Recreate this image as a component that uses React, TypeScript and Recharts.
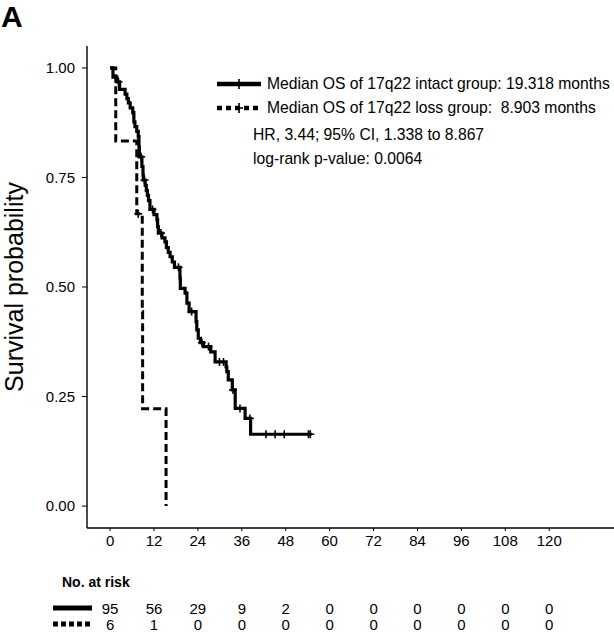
import React from 'react'
import { ComposedChart, Line, Scatter, XAxis, YAxis } from 'recharts'

const monthTicks = [0, 12, 24, 36, 48, 60, 72, 84, 96, 108, 120]
const survTicks = [0, 0.25, 0.5, 0.75, 1]

// 17q22 intact group (n = 95), steps: [months, survival]
const intactSteps: [number, number][] = [
  [0, 1.0], [0.8, 0.979], [1.9, 0.968], [2.6, 0.951], [4.1, 0.94], [4.6, 0.93],
  [5.0, 0.92], [5.5, 0.909], [6.2, 0.898], [6.5, 0.877], [6.8, 0.866], [7.3, 0.855],
  [7.7, 0.843], [7.9, 0.82], [8.0, 0.797], [8.7, 0.775], [9.0, 0.755], [9.1, 0.744],
  [9.6, 0.732], [9.9, 0.72], [10.2, 0.709], [10.5, 0.697], [10.9, 0.677], [12.0, 0.665],
  [12.8, 0.653], [13.0, 0.638], [13.2, 0.623], [14.2, 0.612], [15.0, 0.603], [15.4, 0.59],
  [15.9, 0.579], [16.4, 0.569], [17.0, 0.557], [17.6, 0.545], [19.1, 0.521], [19.2, 0.497],
  [20.5, 0.486], [21.0, 0.463], [21.6, 0.444], [23.5, 0.421], [23.7, 0.402], [24.1, 0.383],
  [24.7, 0.373], [25.5, 0.364], [27.5, 0.352], [28.7, 0.329], [31.7, 0.318], [31.9, 0.307],
  [32.3, 0.288], [33.4, 0.265], [34.2, 0.223], [36.9, 0.2], [38.4, 0.164], [55.1, 0.164],
]
const intactCensored = [2.3, 8.5, 9.4, 11.6, 13.9, 18.7, 22.3, 25.1, 26.9, 29.9, 31.0, 33.6, 35.5, 38.2, 42.6, 45.1, 47.6, 54.2, 54.7]

// 17q22 loss group (n = 6)
const lossSteps: [number, number][] = [
  [0, 1.0], [1.56, 0.833], [7.3, 0.667], [8.8, 0.444], [8.9, 0.222], [15.3, 0],
]
const lossCensored = [7.7]

const riskIntact = [95, 56, 29, 9, 2, 0, 0, 0, 0, 0, 0]
const riskLoss = [6, 1, 0, 0, 0, 0, 0, 0, 0, 0, 0]

const toRows = (steps: [number, number][]) => steps.map(([t, s]) => ({ t, s }))
const survAt = (steps: [number, number][], t: number) => {
  let s = 1
  for (const [st, sv] of steps) if (st <= t) s = sv
  return s
}
const marks = (steps: [number, number][], times: number[]) =>
  times.map((t) => ({ t, s: survAt(steps, t) }))

const intactData = toRows(intactSteps)
const lossData = toRows(lossSteps)
const intactMarks = marks(intactSteps, intactCensored)
const lossMarks = marks(lossSteps, lossCensored)

const riskData = (counts: number[], row: number) =>
  counts.map((n, i) => ({ t: monthTicks[i], row, n }))

const font = '"Liberation Sans", Arial, sans-serif'
const xDomain = [-6.3, 137.7]

const Cross = (props: any) => {
  const { cx, cy } = props
  if (cx == null || cy == null) return null
  return (
    <g stroke="#000" strokeWidth={1.6}>
      <line x1={cx - 4} x2={cx + 4} y1={cy} y2={cy} />
      <line x1={cx} x2={cx} y1={cy - 4} y2={cy + 4} />
    </g>
  )
}

const RiskNum = (props: any) => {
  const { cx, cy, payload } = props
  if (cx == null || cy == null) return null
  return (
    <text x={cx} y={cy} textAnchor="middle" dominantBaseline="central" fontSize={15} fill="#000" fontFamily={font}>
      {payload.n}
    </text>
  )
}

const LegendKey = ({ dashed }: { dashed?: boolean }) => (
  <svg width={46} height={12} style={{ display: 'block' }}>
    <line x1={1} x2={45} y1={6} y2={6} stroke="#000" strokeWidth={4.5} strokeDasharray={dashed ? '5 4' : undefined} />
    <line x1={23} x2={23} y1={1} y2={11} stroke="#000" strokeWidth={1.6} />
    <line x1={19} x2={27} y1={6} y2={6} stroke="#000" strokeWidth={1.6} />
  </svg>
)

const App = () => {
  return (
    <div style={{ position: 'relative', width: 614, height: 632, overflow: 'hidden', background: '#fff', fontFamily: font, color: '#000' }}>
      <style>{'body{margin:0}'}</style>
      <div style={{ position: 'absolute', left: 1, top: 2, fontSize: 30, lineHeight: '30px', fontWeight: 'bold' }}>A</div>

      <div style={{ position: 'absolute', top: 0, left: 0 }}>
        <ComposedChart width={614} height={560} margin={{ top: 46, right: 0, bottom: 0, left: 0 }}>
          <XAxis
            dataKey="t"
            type="number"
            domain={xDomain}
            ticks={monthTicks}
            allowDataOverflow
            height={32}
            tickSize={3}
            tickMargin={4}
            axisLine={{ stroke: '#000', strokeWidth: 1.4 }}
            tickLine={{ stroke: '#000' }}
            tick={{ fill: '#000', fontSize: 15, fontFamily: font }}
          />
          <YAxis
            type="number"
            domain={[-0.05, 1.05]}
            ticks={survTicks}
            allowDataOverflow
            width={87}
            tickSize={5}
            tickMargin={7}
            tickFormatter={(v: number) => v.toFixed(2)}
            axisLine={{ stroke: '#000', strokeWidth: 1.4 }}
            tickLine={{ stroke: '#000' }}
            tick={{ fill: '#000', fontSize: 15, fontFamily: font }}
            label={(p: any) => {
              const vb = p.viewBox || { y: 46, height: 482 }
              const cy = vb.y + vb.height / 2
              return (
                <text x={23} y={cy} transform={`rotate(-90, 23, ${cy})`} textAnchor="middle" fontSize={25} fill="#000" fontFamily={font}>
                  Survival probability
                </text>
              )
            }}
          />
          <Line data={intactData} dataKey="s" type="stepAfter" stroke="#000" strokeWidth={3.2} dot={false} isAnimationActive={false} />
          <Line data={lossData} dataKey="s" type="stepAfter" stroke="#000" strokeWidth={3} strokeDasharray="8 4" dot={false} isAnimationActive={false} />
          <Scatter data={intactMarks} dataKey="s" shape={<Cross />} isAnimationActive={false} />
          <Scatter data={lossMarks} dataKey="s" shape={<Cross />} isAnimationActive={false} />
        </ComposedChart>
      </div>

      <div style={{ position: 'absolute', left: 216, top: 72, fontSize: 15.7, lineHeight: '24px', whiteSpace: 'pre' }}>
        <div style={{ display: 'flex', alignItems: 'center', gap: 5 }}>
          <LegendKey />
          <span>Median OS of 17q22 intact group: 19.318 months</span>
        </div>
        <div style={{ display: 'flex', alignItems: 'center', gap: 5 }}>
          <LegendKey dashed />
          <span>Median OS of 17q22 loss group:  8.903 months</span>
        </div>
        <div style={{ marginLeft: 37, marginTop: 3 }}>HR, 3.44; 95% CI, 1.338 to 8.867</div>
        <div style={{ marginLeft: 37 }}>log-rank p-value: 0.0064</div>
      </div>

      <div style={{ position: 'absolute', left: 62, top: 574, fontSize: 14, fontWeight: 'bold' }}>No. at risk</div>
      <svg style={{ position: 'absolute', left: 0, top: 600 }} width={100} height={32}>
        <line x1={53} x2={92} y1={8} y2={8} stroke="#000" strokeWidth={5} />
        <line x1={53} x2={92} y1={24} y2={24} stroke="#000" strokeWidth={5} strokeDasharray="5 3" />
      </svg>

      <div style={{ position: 'absolute', top: 560, left: 0 }}>
        <ComposedChart width={614} height={72} margin={{ top: 40, right: 0, bottom: 0, left: 87 }}>
          <XAxis dataKey="t" type="number" domain={xDomain} allowDataOverflow hide />
          <YAxis type="number" domain={[0.5, 2.5]} reversed hide />
          <Scatter data={riskData(riskIntact, 1)} dataKey="row" shape={<RiskNum />} isAnimationActive={false} />
          <Scatter data={riskData(riskLoss, 2)} dataKey="row" shape={<RiskNum />} isAnimationActive={false} />
        </ComposedChart>
      </div>
    </div>
  )
}

export default App
